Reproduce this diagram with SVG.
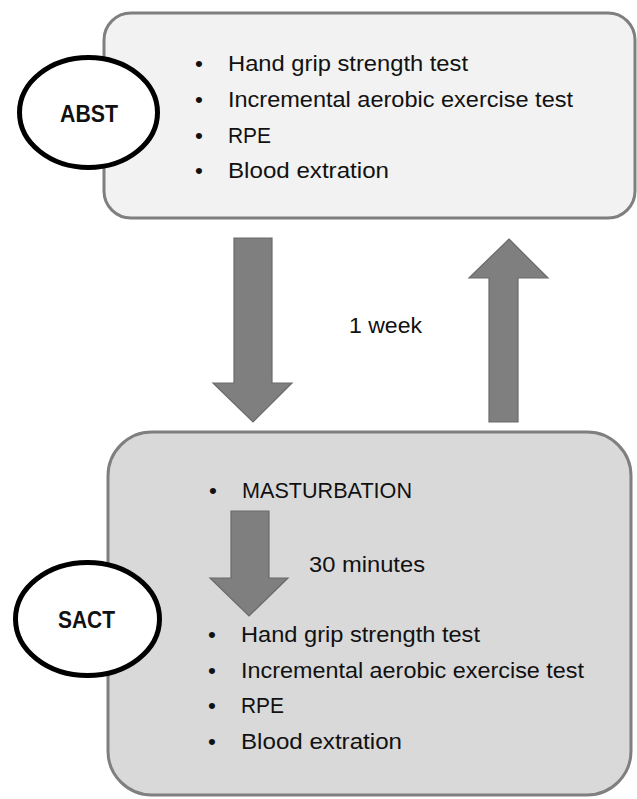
<svg xmlns="http://www.w3.org/2000/svg" width="637" height="799" viewBox="0 0 637 799">
<style>
.box{stroke:#7f7f7f;stroke-width:3}
.oval{fill:#fff;stroke:#000;stroke-width:5}
.arrow{fill:#7f7f7f;stroke:#6a6a6a;stroke-width:1.2}
text{font-family:"Liberation Sans",Arial,sans-serif;font-size:22.5px;fill:#111}
.lbl{font-weight:bold;font-size:24px;text-anchor:middle}
.bul{text-anchor:middle}
</style>
<rect width="637" height="799" fill="#fff"/>
<g id="abst-panel">
<rect class="box" x="104" y="13" width="531" height="205" rx="27" fill="#f2f2f2"/>
<text class="bul" x="199" y="71">•</text>
<text x="228" y="71" textLength="240" lengthAdjust="spacingAndGlyphs">Hand grip strength test</text>
<text class="bul" x="199" y="107">•</text>
<text x="228" y="107" textLength="345" lengthAdjust="spacingAndGlyphs">Incremental aerobic exercise test</text>
<text class="bul" x="199" y="143">•</text>
<text x="228" y="143" textLength="43" lengthAdjust="spacingAndGlyphs">RPE</text>
<text class="bul" x="199" y="178">•</text>
<text x="228" y="178" textLength="161" lengthAdjust="spacingAndGlyphs">Blood extration</text>
</g>
<g id="abst">
<ellipse class="oval" cx="88.5" cy="112.5" rx="69" ry="55"/>
<text class="lbl" x="89" y="122" textLength="58" lengthAdjust="spacingAndGlyphs">ABST</text>
</g>
<g id="sact-panel">
<rect class="box" x="108" y="432" width="523" height="363" rx="44" fill="#d9d9d9"/>
<text class="bul" x="213" y="498">•</text>
<text x="242" y="498" textLength="170" lengthAdjust="spacingAndGlyphs">MASTURBATION</text>
<text class="bul" x="212" y="642">•</text>
<text x="241" y="642" textLength="239" lengthAdjust="spacingAndGlyphs">Hand grip strength test</text>
<text class="bul" x="212" y="678">•</text>
<text x="241" y="678" textLength="343" lengthAdjust="spacingAndGlyphs">Incremental aerobic exercise test</text>
<text class="bul" x="212" y="713">•</text>
<text x="241" y="713" textLength="43" lengthAdjust="spacingAndGlyphs">RPE</text>
<text class="bul" x="212" y="749">•</text>
<text x="241" y="749" textLength="161" lengthAdjust="spacingAndGlyphs">Blood extration</text>
</g>
<g id="sact">
<ellipse class="oval" cx="87.5" cy="619" rx="72" ry="56.5"/>
<text class="lbl" x="86.5" y="628" textLength="57" lengthAdjust="spacingAndGlyphs">SACT</text>
</g>
<g id="connectors">
<polygon class="arrow" points="234,238 272,238 272,383 292,383 253,422 213,383 234,383"/>
<polygon class="arrow" points="509,239 548,278 518,278 518,422 489,422 489,278 469,278"/>
<text x="349" y="333" textLength="73" lengthAdjust="spacingAndGlyphs">1 week</text>
<polygon class="arrow" points="231,511 269,511 269,578 288,578 249,616 210,578 231,578"/>
<text x="309" y="572" textLength="116" lengthAdjust="spacingAndGlyphs">30 minutes</text>
</g>
</svg>
